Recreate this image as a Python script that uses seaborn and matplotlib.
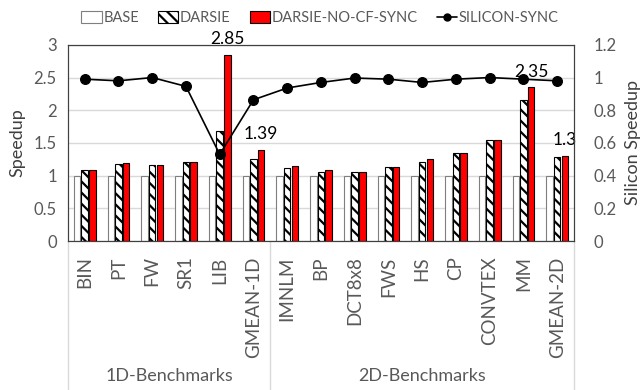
import numpy as np
import pandas as pd
import seaborn as sns
import matplotlib
matplotlib.use('Agg')
import matplotlib.pyplot as plt
from matplotlib.patches import Patch
from matplotlib.lines import Line2D
from matplotlib.ticker import FormatStrFormatter

benchmarks = ['BIN', 'PT', 'FW', 'SR1', 'LIB', 'GMEAN-1D', 'IMNLM', 'BP', 'DCT8x8',
              'FWS', 'HS', 'CP', 'CONVTEX', 'MM', 'GMEAN-2D']
base = [1.0] * 15
darsie = [1.08, 1.18, 1.17, 1.21, 1.68, 1.25, 1.11, 1.06, 1.05, 1.13, 1.21, 1.35, 1.55, 2.15, 1.29]
darsie_no_cf = [1.08, 1.20, 1.17, 1.21, 2.85, 1.39, 1.15, 1.08, 1.06, 1.13, 1.26, 1.35, 1.55, 2.35, 1.30]
silicon = [0.99, 0.98, 1.0, 0.946, 0.53, 0.864, 0.936, 0.97, 0.997, 0.99, 0.97, 0.99, 1.0, 0.99, 0.98]
groups = ['1D-Benchmarks', '2D-Benchmarks']
group_sizes = [6, 9]
labelled = ['LIB', 'GMEAN-1D', 'MM', 'GMEAN-2D']  # bars with value on top
configs = ['BASE', 'DARSIE', 'DARSIE-NO-CF-SYNC']

sns.set_style('white')
plt.rcParams['font.family'] = ['Lato', 'DejaVu Sans']
plt.rcParams['hatch.linewidth'] = 1.6
grey = '#595959'

df = pd.DataFrame({
    'bench': benchmarks * 3,
    'config': [c for c in configs for _ in benchmarks],
    'speedup': base + darsie + darsie_no_cf,
})

fig = plt.figure(figsize=(6.4, 3.9), dpi=100)
ax = fig.add_axes([0.106, 0.382, 0.791, 0.503])

sns.barplot(data=df, x='bench', y='speedup', hue='config', hue_order=configs,
            palette=['white', 'white', 'red'], width=0.675, gap=0.15,
            legend=False, ax=ax, saturation=1)
for i, cont in enumerate(ax.containers):
    for p in cont:
        if i == 0:
            p.set_edgecolor('#7f7f7f'); p.set_linewidth(0.8)
        elif i == 1:
            p.set_hatch('\\\\\\'); p.set_edgecolor('black'); p.set_linewidth(0.8)
        else:
            p.set_edgecolor('black'); p.set_linewidth(0.8)

# value labels
red = ax.containers[2]
for b in labelled:
    k = benchmarks.index(b)
    p = red[k]
    ax.text(p.get_x() + p.get_width() / 2, darsie_no_cf[k] + 0.12, f'{darsie_no_cf[k]:g}',
            ha='center', va='bottom', fontsize=12.5, color='black')

ax.set_ylim(0, 3)
ax.set_yticks(np.arange(0, 3.01, 0.5))
ax.yaxis.set_major_formatter(FormatStrFormatter('%g'))
ax.yaxis.grid(True, color='#d9d9d9', lw=1)
ax.set_axisbelow(True)
ax.set_xlabel('')
ax.set_ylabel('Speedup', fontsize=13, color='#404040', labelpad=6)
ax.tick_params(axis='y', length=0, labelcolor=grey, labelsize=12, pad=8)
ax.tick_params(axis='x', length=0, labelcolor=grey, labelsize=13.5, rotation=90, pad=11)

ax2 = ax.twinx()
sns.pointplot(x=benchmarks, y=silicon, color='black', markers='o', markersize=7,
              linewidth=1.2, ax=ax2)
ax2.set_ylim(0, 1.2)
ax2.set_yticks(np.arange(0, 1.21, 0.2))
ax2.yaxis.set_major_formatter(FormatStrFormatter('%g'))
ax2.set_ylabel('Silicon Speedup', fontsize=13, color='#404040', labelpad=6)
ax2.tick_params(axis='y', length=0, labelcolor=grey, labelsize=12, pad=14)
ax.set_xlim(-0.5, len(benchmarks) - 0.5)

for a in (ax, ax2):
    for s in a.spines.values():
        s.set_color('#404040'); s.set_linewidth(0.8)

# group separators and labels
trans = ax.get_xaxis_transform()
edges = np.concatenate([[0], np.cumsum(group_sizes)]) - 0.5
for x in edges:
    ax.plot([x, x], [0, -0.77], transform=trans, color='#d9d9d9', lw=1, clip_on=False)
for g, lo, hi in zip(groups, edges[:-1], edges[1:]):
    ax.text((lo + hi) / 2, -0.69, g, transform=trans, ha='center', va='center',
            fontsize=13, color=grey)

handles = [Patch(facecolor='white', edgecolor='#7f7f7f', lw=0.8),
           Patch(facecolor='white', edgecolor='black', hatch='\\\\\\', lw=0.8),
           Patch(facecolor='red', edgecolor='black', lw=0.8),
           Line2D([], [], color='black', marker='o', markersize=5, lw=1.2)]
fig.legend(handles, configs + ['SILICON-SYNC'], loc='center', bbox_to_anchor=(0.5, 0.953),
           ncol=4, frameon=False, fontsize=10.5, labelcolor=grey, handlelength=1.4,
           handleheight=0.9, handletextpad=0.1, columnspacing=1.3)

fig.savefig('out.png', dpi=100)
